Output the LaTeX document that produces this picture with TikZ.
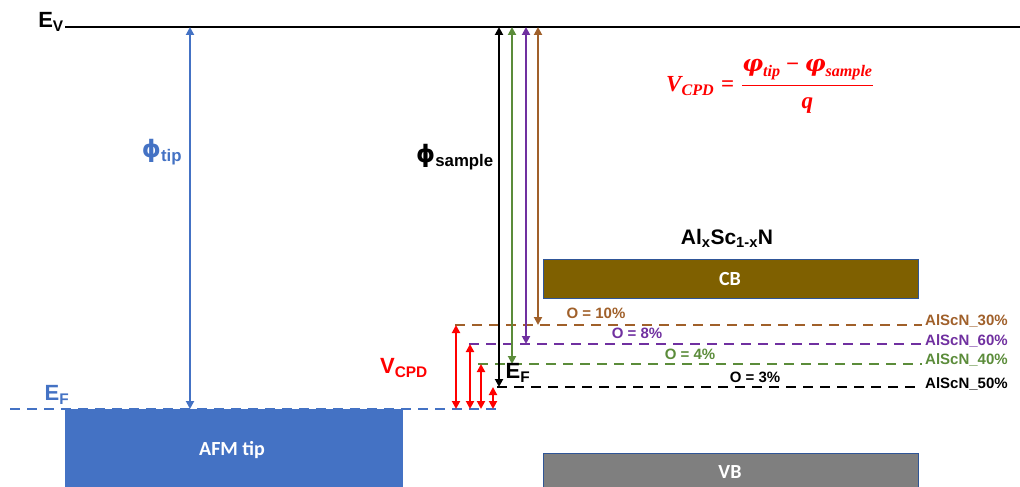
\documentclass[tikz,border=0pt]{standalone}
\usepackage{fontspec}
\setmainfont{Liberation Sans}
\newfontfamily\calfont{Carlito}
\newfontfamily\phifont{DejaVu Sans}
\newfontfamily\eqfont{Liberation Serif}
\newfontfamily\eqphi{DejaVu Serif}
\usepackage{amsmath}
\usetikzlibrary{arrows.meta}
\definecolor{tipblue}{HTML}{4472C4}
\definecolor{brn}{HTML}{A0602A}
\definecolor{prp}{HTML}{7030A0}
\definecolor{grn}{HTML}{5B8C3A}
\definecolor{cbfill}{HTML}{7F6000}
\definecolor{vbfill}{HTML}{7F7F7F}
\definecolor{bordblue}{HTML}{2F5597}
\newcommand{\bi}[1]{\text{\eqfont\bfseries\itshape #1}}
\newcommand{\bop}[1]{\mathbin{\text{\eqfont\bfseries #1}}}
\newcommand{\bphi}{\text{\eqphi\bfseries\itshape φ}}
\newcommand{\cpdformula}{\mbox{\fontsize{23}{28}\selectfont$\bi{V}_{\bi{CPD}}\mathrel{\text{\eqfont\bfseries =}}\genfrac{}{}{1.5pt}{0}{\bphi_{\bi{tip}}\bop{−}\bphi_{\bi{sample}}}{\bi{q}}$}}
\tikzset{
  lvl/.style={line width=2.6pt, dash pattern=on 10pt off 7pt},
  dbl/.style={line width=1.9pt, {Triangle[length=8pt,width=8pt]}-{Triangle[length=8pt,width=8pt]}},
  lbl/.style={font=\bfseries\fontsize{15}{17}\selectfont, inner sep=0pt},
  band/.style={draw=bordblue, line width=0.8pt},
  bandtxt/.style={text=white, font=\calfont\bfseries\fontsize{20}{24}\selectfont},
}
\begin{document}
\begin{tikzpicture}[x=1pt,y=-1pt]
\useasboundingbox (0,0) rectangle (1020,487);
% vacuum level
\node[font=\bfseries\fontsize{22}{24}\selectfont, inner sep=0pt] (EV) at (51,22) {E\textsubscript{V}};
\coordinate (EVl) at (65,27);
\coordinate (EVr) at (1020,27);
\draw[line width=2.6pt] (EVl) -- (EVr);
% AFM tip
\node[fill=tipblue, minimum width=338pt, minimum height=82pt, anchor=north west, inner sep=0pt] (tip) at (65,409) {};
\node[bandtxt] (tiplbl) at (232,450) {AFM tip};
\coordinate (tEFl) at (10,409);
\coordinate (tEFr) at (497,409);
\draw[lvl, tipblue] (tEFl) -- (tEFr);
\node[text=tipblue, font=\bfseries\fontsize{22}{24}\selectfont, inner sep=0pt] (EFt) at (57,395) {E\textsubscript{F}};
% phi tip
\coordinate (pt1) at (190,27);
\coordinate (pt2) at (190,409);
\draw[dbl, tipblue] (pt1) -- (pt2);
\node[text=tipblue, font=\bfseries\fontsize{24}{26}\selectfont, inner sep=0pt] (phit) at (162,152) {{\phifont\bfseries ɸ}\textsubscript{tip}};
% sample levels
\coordinate (b1) at (455,325); \coordinate (b2) at (922,325);
\coordinate (p1) at (469,344); \coordinate (p2) at (922,344);
\coordinate (g1) at (478,364); \coordinate (g2) at (922,364);
\coordinate (k1) at (497,387); \coordinate (k2) at (922,387);
\draw[lvl, brn] (b1) -- (b2);
\draw[lvl, prp] (p1) -- (p2);
\draw[lvl, grn] (g1) -- (g2);
\draw[lvl, black] (k1) -- (k2);
\node[lbl, text=brn, anchor=west] (L30) at (925,321) {AlScN\_30\%};
\node[lbl, text=prp, anchor=west] (L60) at (925,341) {AlScN\_60\%};
\node[lbl, text=grn, anchor=west] (L40) at (925,360) {AlScN\_40\%};
\node[lbl, text=black, anchor=west] (L50) at (925,384) {AlScN\_50\%};
\node[lbl, text=brn] (O10) at (596,313) {O = 10\%};
\node[lbl, text=prp] (O8) at (637,333) {O = 8\%};
\node[lbl, text=grn] (O4) at (690,354) {O = 4\%};
\node[lbl, text=black] (O3) at (755,377) {O = 3\%};
% phi sample arrows
\coordinate (ka) at (499,27); \coordinate (kb) at (499,387);
\coordinate (ga) at (512,27); \coordinate (gb) at (512,364);
\coordinate (pa) at (526,27); \coordinate (pb) at (526,344);
\coordinate (ba) at (538,27); \coordinate (bb) at (538,325);
\draw[dbl, black] (ka) -- (kb);
\draw[dbl, grn] (ga) -- (gb);
\draw[dbl, prp] (pa) -- (pb);
\draw[dbl, brn] (ba) -- (bb);
\node[font=\bfseries\fontsize{24}{26}\selectfont, inner sep=0pt] (phis) at (455,157) {{\phifont\bfseries ɸ}\textsubscript{sample}};
\node[font=\bfseries\fontsize{22}{24}\selectfont, inner sep=0pt] (EFs) at (518,373) {E\textsubscript{F}};
% CPD arrows
\coordinate (r1a) at (456,409); \coordinate (r1b) at (456,325);
\coordinate (r2a) at (470,409); \coordinate (r2b) at (470,344);
\coordinate (r3a) at (481,409); \coordinate (r3b) at (481,364);
\coordinate (r4a) at (493,409); \coordinate (r4b) at (493,387);
\foreach \a/\b in {r1a/r1b, r2a/r2b, r3a/r3b, r4a/r4b} \draw[dbl, red] (\a) -- (\b);
\node[text=red, font=\bfseries\fontsize{22}{24}\selectfont, inner sep=0pt] (vcpd) at (404,368) {V\textsubscript{CPD}};
% bands
\node[band, fill=cbfill, minimum width=375pt, minimum height=39pt, anchor=north west, inner sep=0pt] (CB) at (543,259) {};
\node[bandtxt] (CBl) at (730,279) {CB};
\node[band, fill=vbfill, minimum width=375pt, minimum height=40pt, anchor=north west, inner sep=0pt] (VB) at (543,453) {};
\node[bandtxt] (VBl) at (730,472) {VB};
\node[font=\bfseries\fontsize{21}{24}\selectfont, inner sep=0pt] (mat) at (727,238) {Al\textsubscript{x}Sc\textsubscript{1-x}N};
% formula
\node[text=red, inner sep=0pt] (eq) at (770,86) {\cpdformula};
\end{tikzpicture}
\end{document}
